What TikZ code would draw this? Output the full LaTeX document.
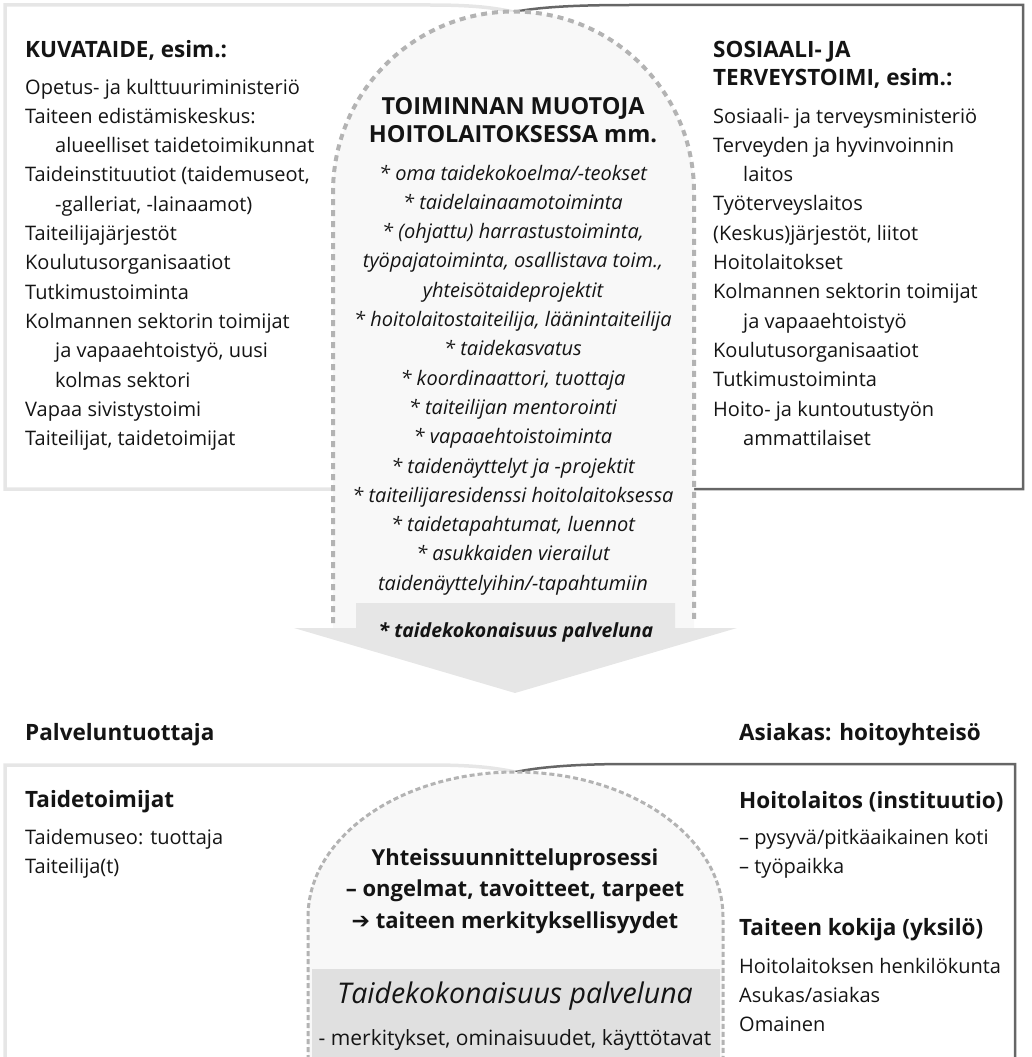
\documentclass[tikz,border=0pt]{standalone}
\usepackage{fontspec}
\setmainfont{Open Sans}
\newfontfamily\symfont{DejaVu Sans}
\definecolor{boxlight}{HTML}{E6E6E6}
\definecolor{boxdark}{HTML}{666666}
\definecolor{dashgray}{HTML}{B3B3B3}
\definecolor{colfill}{HTML}{F8F8F8}
\definecolor{arrowfill}{HTML}{E6E6E6}
\definecolor{bandfill}{HTML}{E0E0E0}
\definecolor{inkblack}{HTML}{141414}

\begin{document}
\begin{tikzpicture}[x=1pt, y=-1pt,
  every node/.style={inner sep=0, text=inkblack},
  list/.style={align=left, anchor=base west, font=\fontsize{20}{29.3}\selectfont},
  midlist/.style={align=center, anchor=base, font=\fontsize{20}{29.3}\selectfont\itshape},
  head/.style={anchor=base west, font=\fontsize{22.5}{28}\selectfont\bfseries},
  lightline/.style={draw=boxlight, line width=3.5pt},
  darkline/.style={draw=boxdark, line width=2.5pt},
  archline/.style={draw=dashgray, line width=4pt, dash pattern=on 6pt off 5pt}]
\useasboundingbox (0,0) rectangle (1031,1057);

\draw[lightline] (333,489) -- (5,489) -- (5,5) -- (430,5) .. controls (475,5) and (495,8) .. (513.5,12);
\draw[darkline] (513.5,12) .. controls (540,7) and (575,5) .. (630,5) -- (1023,5) -- (1023,489) -- (694,489);
\fill[colfill] (333,628) -- (333,192) arc[start angle=180, end angle=360, radius=180.5] -- (694,628) -- cycle;
\fill[arrowfill] (356,603) -- (675,603) -- (675,628) -- (737,628) -- (515,693) -- (294,628) -- (356,628) -- cycle;
\draw[archline] (333,623) -- (333,192) arc[start angle=180, end angle=360, radius=180.5] -- (694,623);

\node[head] (kuvataide) at (25,57) {KUVATAIDE, esim.:};
\node[list] (kuvalista) at (25,445.6) {Opetus- ja kulttuuriministeriö\\Taiteen edistämiskeskus:\\\hspace*{30pt}alueelliset taidetoimikunnat\\Taideinstituutiot (taidemuseot,\\\hspace*{30pt}-galleriat, -lainaamot)\\Taiteilijajärjestöt\\Koulutusorganisaatiot\\Tutkimustoiminta\\Kolmannen sektorin toimijat\\\hspace*{30pt}ja vapaaehtoistyö, uusi\\\hspace*{30pt}kolmas sektori\\Vapaa sivistystoimi\\Taiteilijat, taidetoimijat};

\node[head, align=left] (sosiaali) at (713,85) {SOSIAALI- JA\\TERVEYSTOIMI, esim.:};
\node[list] (sosiaalilista) at (713,445.3) {Sosiaali- ja terveysministeriö\\Terveyden ja hyvinvoinnin\\\hspace*{30pt}laitos\\Työterveyslaitos\\(Keskus)järjestöt, liitot\\Hoitolaitokset\\Kolmannen sektorin toimijat\\\hspace*{30pt}ja vapaaehtoistyö\\Koulutusorganisaatiot\\Tutkimustoiminta\\Hoito- ja kuntoutustyön\\\hspace*{30pt}ammattilaiset};

\node[head, anchor=base, align=center, font=\fontsize{23.5}{28}\selectfont\bfseries] (muodot) at (513,142) {TOIMINNAN MUOTOJA\\HOITOLAITOKSESSA mm.};
\node[midlist] (muotolista) at (513,590.2) {* oma taidekokoelma/-teokset\\* taidelainaamotoiminta\\* (ohjattu) harrastustoiminta,\\työpajatoiminta, osallistava toim.,\\yhteisötaideprojektit\\* hoitolaitostaiteilija, läänintaiteilija\\* taidekasvatus\\* koordinaattori, tuottaja\\* taiteilijan mentorointi\\* vapaaehtoistoiminta\\* taidenäyttelyt ja -projektit\\* taiteilijaresidenssi hoitolaitoksessa\\* taidetapahtumat, luennot\\* asukkaiden vierailut\\taidenäyttelyihin/-tapahtumiin};
\node[midlist, font=\fontsize{19.5}{29.3}\selectfont\bfseries\itshape] (kokonaisuus) at (516,637) {* taidekokonaisuus palveluna};

\node[head] (tuottaja) at (25,740) {Palveluntuottaja};
\node[head] (asiakas) at (739,740) {Asiakas: hoitoyhteisö};

\draw[lightline] (5,1060) -- (5,765) -- (430,765) .. controls (475,765) and (495,768) .. (515.5,772);
\draw[darkline] (515.5,772) .. controls (540,767) and (575,764) .. (630,764) -- (1015,764) -- (1015,1060);
\fill[colfill] (308,1060) -- (308,917) arc[start angle=180, end angle=360, x radius=207.5, y radius=145] -- (723,1060) -- cycle;
\fill[bandfill] (312,969) rectangle (720,1060);
\draw[archline, line width=3pt, dash pattern=on 5pt off 3pt] (308,1060) -- (308,917) arc[start angle=180, end angle=360, x radius=207.5, y radius=145] -- (723,1060);

\node[head] (taidetoimijat) at (25,807) {Taidetoimijat};
\node[list] (taidelista) at (25,873.3) {Taidemuseo: tuottaja\\Taiteilija(t)};
\node[head] (hoitolaitos) at (739,808) {Hoitolaitos (instituutio)};
\node[list] (hoitolista) at (739,873.3) {– pysyvä/pitkäaikainen koti\\– työpaikka};
\node[head] (kokija) at (739,935) {Taiteen kokija (yksilö)};
\node[list] (kokijalista) at (739,1031.6) {Hoitolaitoksen henkilökunta\\Asukas/asiakas\\Omainen};

\node[head, anchor=base, align=center, font=\fontsize{22}{31.5}\selectfont\bfseries] (prosessi) at (515,928) {Yhteissuunnitteluprosessi\\– ongelmat, tavoitteet, tarpeet\\{\symfont ➔} taiteen merkityksellisyydet};
\node[anchor=base, font=\fontsize{28.5}{30}\selectfont\itshape] (palvelu) at (515,1003) {Taidekokonaisuus palveluna};
\node[anchor=base, font=\fontsize{21}{24}\selectfont] (merkitys) at (515,1045) {- merkitykset, ominaisuudet, käyttötavat};
\end{tikzpicture}
\end{document}
